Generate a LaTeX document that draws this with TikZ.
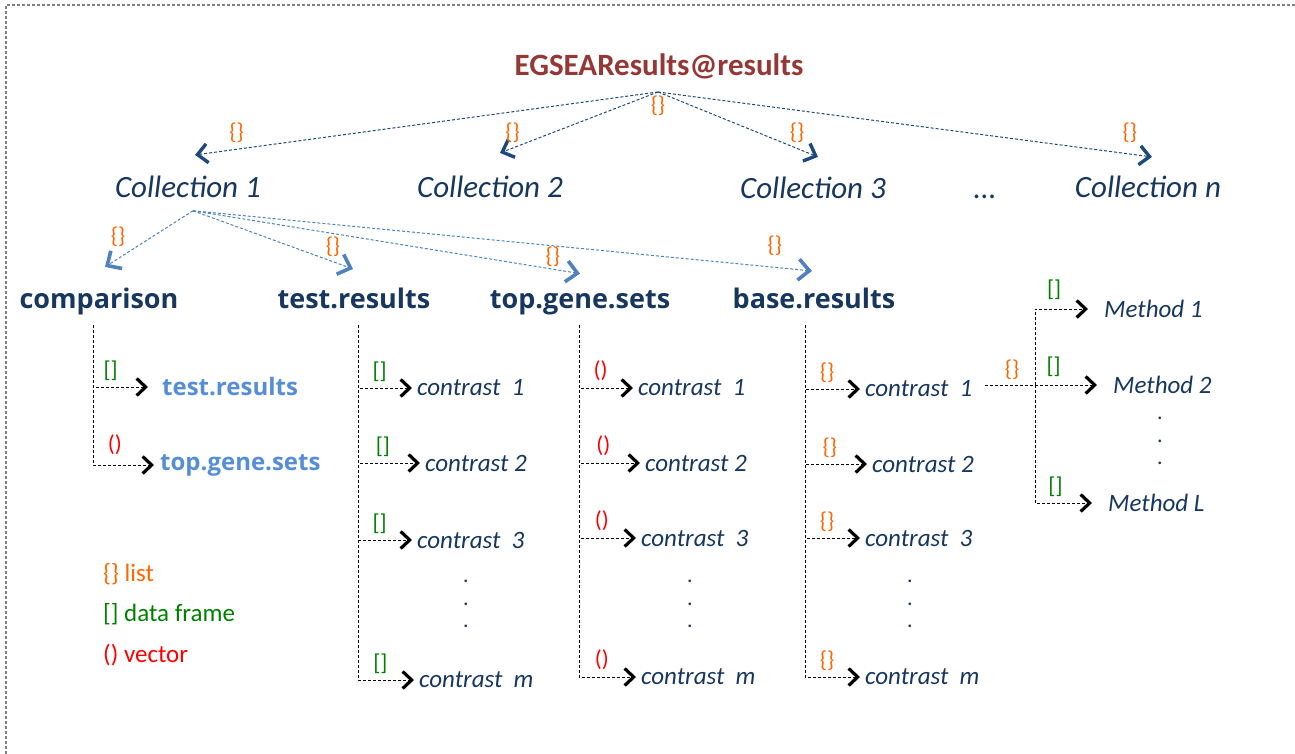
\documentclass[tikz,border=0pt]{standalone}
\usepackage{fontspec}
\setmainfont{Carlito}
\newfontfamily\hdfont{Open Sans}
\usetikzlibrary{arrows.meta,positioning}
\definecolor{egred}{HTML}{953735}
\definecolor{egnavy}{HTML}{17375E}
\definecolor{reflblue}{HTML}{558ED5}
\definecolor{arrblue}{HTML}{1F497D}
\definecolor{midblue}{HTML}{4F81BD}
\definecolor{lstorange}{HTML}{FF6600}
\definecolor{dfgreen}{HTML}{008000}
\definecolor{vecred}{HTML}{FF0000}
\begin{document}
\begin{tikzpicture}
	[x=1pt,y=-1pt,
	resname/.style={text=egred, font=\fontsize{31}{36}\selectfont\bfseries, anchor=base},
	coll/.style={text=egnavy, font=\fontsize{31}{36}\selectfont\itshape, anchor=base},
	slot/.style={text=egnavy, font=\hdfont\fontsize{27}{32}\selectfont\bfseries, anchor=base},
	refname/.style={text=reflblue, font=\hdfont\fontsize{24}{28}\selectfont\bfseries, anchor=west, inner xsep=6pt},
	entry/.style={text=egnavy, font=\fontsize{25}{30}\selectfont\itshape, anchor=west, inner xsep=5pt},
	mentry/.style={entry, inner xsep=16pt},
	vdots/.style={text=egnavy, font=\fontsize{22}{22.5}\selectfont, align=center, inner sep=0pt},
	lst/.style={text=lstorange, font=\fontsize{23}{26}\selectfont, inner sep=1pt},
	dfr/.style={text=dfgreen, font=\fontsize{23}{26}\selectfont, inner sep=1pt},
	vec/.style={text=vecred, font=\fontsize{23}{26}\selectfont, inner sep=1pt},
	legendtext/.style={font=\fontsize{25}{30}\selectfont, anchor=base west, inner sep=0pt},
	tag/.style={pos=.7, above=5pt},
	toparrow/.style={arrblue, line width=1pt, dash pattern=on 3pt off 2pt,
		-{Straight Barb[length=10pt,width=19pt,line width=3.4pt]}},
	subarrow/.style={midblue, line width=1pt, dash pattern=on 3pt off 2pt,
		-{Straight Barb[length=11pt,width=21pt,line width=3.6pt]}},
	trunk/.style={black, line width=1pt, dash pattern=on 3pt off 2pt},
	branch/.style={trunk, -{Straight Barb[length=9pt,width=17pt,line width=3.2pt]}},
	]
	\useasboundingbox (0,0) rectangle (1295,754);
	\draw[gray, line width=1.2pt, dash pattern=on 3pt off 2pt] (6,754) -- (6,5) -- (1295,5);

	\node[resname] (res) at (659,76) {EGSEAResults@results};
	\coordinate (hub) at (658,92);
	\node[lst, below=3pt of hub] (hublst) {\{\}};

	\node[coll] (c1) at (188,197) {Collection 1};
	\node[coll] (c2) at (490,197) {Collection 2};
	\node[coll] (c3) at (813,198) {Collection 3};
	\node[coll] (cdots) at (985,198) {...};
	\node[coll] (cn) at (1148,197) {Collection n};

	\draw[toparrow] (hub) -- ([shift={(7,-17)}]c1.north)
		node[lst, pos=.91, above=5pt] {\{\}};
	\draw[toparrow] (hub) -- ([shift={(10,-19)}]c2.north)
		node[lst, pos=.92, above=4pt] {\{\}};
	\draw[toparrow] (hub) -- ([shift={(5,-16)}]c3.north)
		node[lst, pos=.87, above=4pt] {\{\}};
	\draw[toparrow] (hub) -- ([shift={(4,-15)}]cn.north)
		node[lst, pos=.955, above=10pt] {\{\}};

	\node[slot] (cmp) at (99,308) {comparison};
	\node[slot] (tr) at (354,308) {test.results};
	\node[slot] (tg) at (580,308) {top.gene.sets};
	\node[slot] (br) at (814,308) {base.results};

	\coordinate (c1hub) at ([shift={(5,10)}]c1.south);
	\draw[subarrow] (c1hub) -- ([shift={(6,-17)}]cmp.north)
		node[lst, pos=.85, above=10pt] {\{\}};
	\draw[subarrow] (c1hub) -- ([shift={(-1,-15)}]tr.north)
		node[lst, pos=.875, above=4pt] {\{\}};
	\draw[subarrow] (c1hub) -- ([shift={(0,-13)}]tg.north)
		node[lst, pos=.93, above=1pt] {\{\}};
	\draw[subarrow] (c1hub) -- ([shift={(-2,-13)}]br.north)
		node[lst, pos=.94, above=10pt] {\{\}};

	\coordinate (cmpk) at (93,325);
	\node[refname, inner xsep=14pt] (cr1) at (148,387) {test.results};
	\node[refname] (cr2) at (154,465) {top.gene.sets};
	\draw[branch] (cmpk) |- (cr1.west) node[dfr, pos=.66, above=5pt] {[]};
	\draw[branch] (cmpk) |- (cr2.west) node[vec, pos=.68, above=9pt] {()};

	\coordinate (trk) at (358,325);
	\node[entry] (tr1) at (412,388) {contrast\ \ 1};
	\node[entry] (tr2) at (420,463) {contrast 2};
	\node[entry] (tr3) at (412,540) {contrast\ \ 3};
	\node[entry] (trm) at (414,680) {contrast\ \ m};
	\foreach \row in {tr1,tr2,tr3,trm}
		\draw[branch] (trk) |- (\row.west) node[dfr, tag] {[]};

	\coordinate (tgk) at (579,325);
	\node[entry] (tg1) at (633,388) {contrast\ \ 1};
	\node[entry] (tg2) at (640,463) {contrast 2};
	\node[entry] (tg3) at (636,538) {contrast\ \ 3};
	\node[entry] (tgm) at (636,677) {contrast\ \ m};
	\foreach \row in {tg1,tg2,tg3,tgm}
		\draw[branch] (tgk) |- (\row.west) node[vec, tag, above=6pt] {()};

	\coordinate (brk) at (805,325);
	\node[entry] (br1) at (860,389) {contrast\ \ 1};
	\node[entry] (br2) at (867,464) {contrast 2};
	\node[entry] (br3) at (860,538) {contrast\ \ 3};
	\node[entry] (brm) at (860,677) {contrast\ \ m};
	\foreach \row in {br1,br2,br3,brm}
		\draw[branch] (brk) |- (\row.west) node[lst, tag] {\{\}};

	\foreach \x/\col in {466/tr,690/tg,910/br}
		\node[vdots] (\col dots) at (\x,604) {.\\.\\.};

	\coordinate (mk) at (1035,385);
	\node[mentry] (m1) at (1088,309) {Method 1};
	\node[mentry] (m2) at (1097,385) {Method 2};
	\node[mentry] (mL) at (1092,503) {Method L};
	\draw[trunk, shorten <=7pt] (br1.east |- mk) -- (mk)
		node[lst, pos=.6, above=4pt] {\{\}};
	\draw[branch] (mk) |- (m1.west) node[dfr, pos=.68, above=8pt] {[]};
	\draw[branch] (mk) -- (m2.west) node[dfr, pos=.3, above=7pt] {[]};
	\draw[branch] (mk) |- (mL.west) node[dfr, pos=.68, above=5pt] {[]};
	\node[vdots] (mdots) at (1160,441) {.\\.\\.};

	\node[legendtext, text=lstorange] (keylst) at (103,581) {\{\} list};
	\node[legendtext, text=dfgreen] (keydfr) at (103,621) {[] data frame};
	\node[legendtext, text=vecred] (keyvec) at (103,662) {() vector};
\end{tikzpicture}
\end{document}
